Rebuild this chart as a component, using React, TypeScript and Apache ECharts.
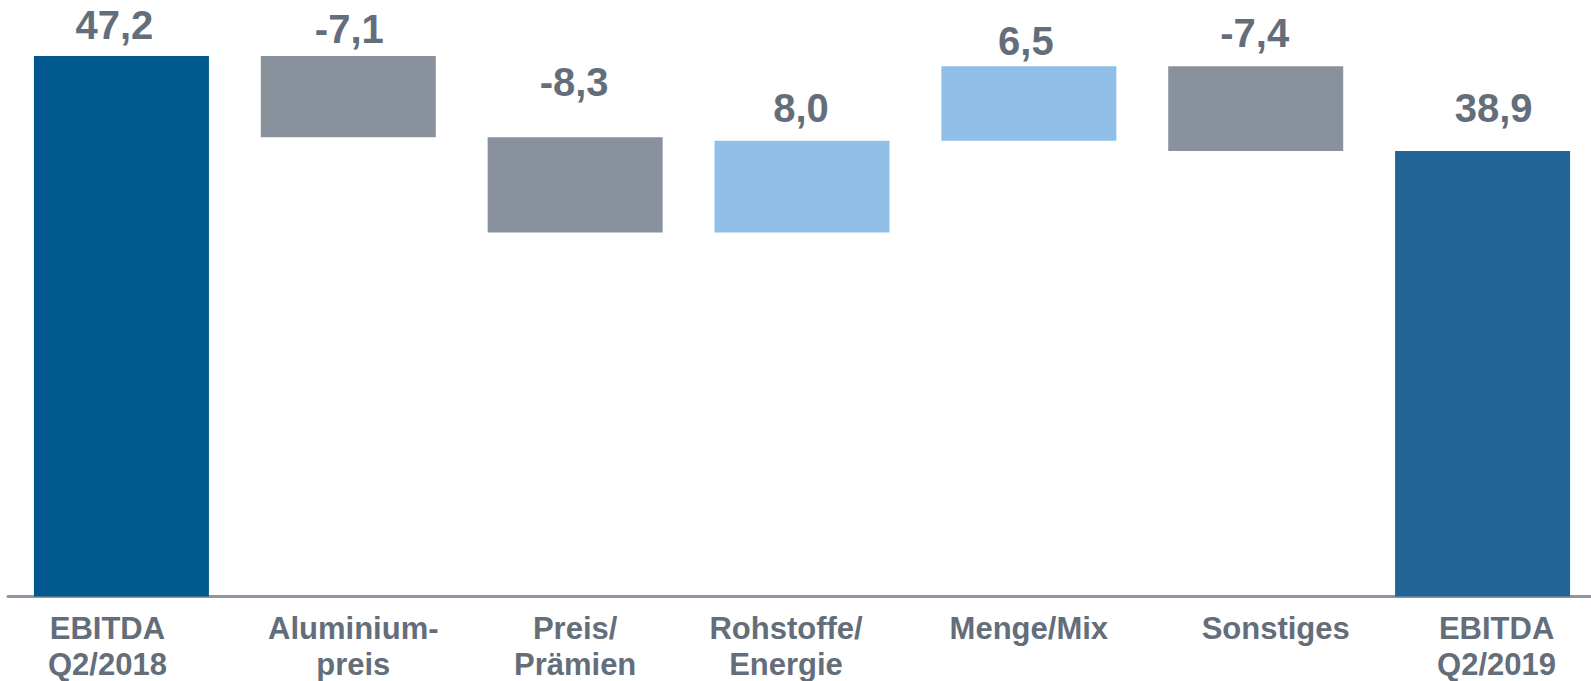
import React, { useEffect, useRef } from "react";
import * as echarts from "echarts";

const categories = [
  "EBITDA\nQ2/2018",
  "Aluminium-\npreis",
  "Preis/\nPrämien",
  "Rohstoffe/\nEnergie",
  "Menge/Mix",
  "Sonstiges",
  "EBITDA\nQ2/2019",
];
const startValue = 47.2;
const deltas = [-7.1, -8.3, 8.0, 6.5, -7.4];
const endValue = 38.9;

const COLOR_START = "#00588F";
const COLOR_END = "#236497";
const COLOR_NEG = "#88919C";
const COLOR_POS = "#8FBFE6";
const TEXT = "#646E7A";
const FONT = "'Liberation Sans', Arial, Helvetica, sans-serif";

// label layout tweaks (style only)
const labelDistances = [11, 7, 35, 13, 5, 13, 23];
const labelOffsetsX = [-7, 1, -1, -1, -3, -1, 11];
const categoryShift = [-14, 5, 0, -16, 0, 20, 14];

const fmt = (v: number) => v.toFixed(1).replace(".", ",");

export default function App() {
  const ref = useRef<HTMLDivElement>(null);
  useEffect(() => {
    if (!ref.current) return;
    const chart = echarts.init(ref.current, undefined, { renderer: "svg" });

    const bases: number[] = [0];
    const heights: number[] = [startValue];
    const signed: number[] = [startValue];
    const colors: string[] = [COLOR_START];
    let running = startValue;
    deltas.forEach((d) => {
      const next = running + d;
      bases.push(Math.min(running, next));
      heights.push(Math.abs(d));
      signed.push(d);
      colors.push(d < 0 ? COLOR_NEG : COLOR_POS);
      running = next;
    });
    bases.push(0);
    heights.push(endValue);
    signed.push(endValue);
    colors.push(COLOR_END);

    const rich: Record<string, any> = {};
    categories.forEach((_, i) => {
      const s = categoryShift[i];
      rich["c" + i] = {
        fontSize: 31,
        fontWeight: "bold",
        fontFamily: FONT,
        color: TEXT,
        lineHeight: 36,
        align: "center",
        padding: s >= 0 ? [0, 0, 0, 2 * s] : [0, -2 * s, 0, 0],
      };
    });

    chart.setOption({
      animation: false,
      grid: { left: 8, top: 24, width: 1588, bottom: 84.5 },
      xAxis: {
        type: "category",
        data: categories,
        axisTick: { show: false },
        axisLine: { lineStyle: { color: "#8C97A3", width: 3 } },
        axisLabel: {
          interval: 0,
          margin: 14,
          formatter: (value: string, index: number) =>
            value
              .split("\n")
              .map((l) => `{c${index}|${l}}`)
              .join("\n"),
          rich,
        },
      },
      yAxis: {
        type: "value",
        min: 0,
        max: 50,
        show: false,
        splitLine: { show: false },
      },
      series: [
        {
          type: "bar",
          stack: "w",
          silent: true,
          barWidth: 175,
          itemStyle: { color: "transparent" },
          data: bases,
        },
        {
          type: "bar",
          stack: "w",
          barWidth: 175,
          data: heights.map((h, i) => ({
            value: h,
            itemStyle: { color: colors[i] },
            label: {
              show: true,
              position: "top",
              distance: labelDistances[i],
              offset: [labelOffsetsX[i], 0],
              formatter: () => fmt(signed[i]),
              fontSize: 40,
              lineHeight: 40,
              fontWeight: "bold",
              fontFamily: FONT,
              color: TEXT,
            },
          })),
        },
      ],
    });
    return () => chart.dispose();
  }, []);
  return (
    <div
      ref={ref}
      style={{ position: "fixed", left: 0, top: 0, width: 1600, height: 681, background: "#fff" }}
    />
  );
}
